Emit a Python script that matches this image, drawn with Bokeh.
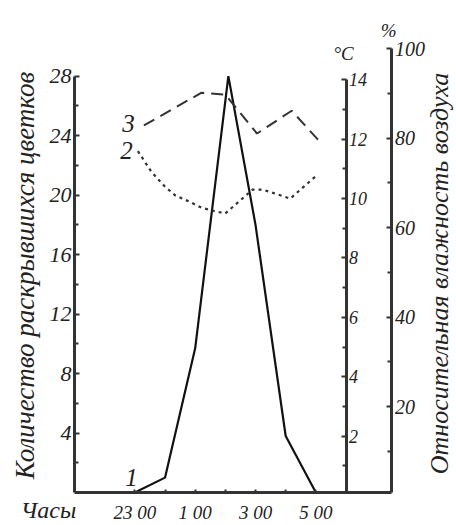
import math
from bokeh.plotting import figure
from bokeh.models import LinearAxis, Range1d, FixedTicker, Label
from bokeh.embed import file_html
from bokeh.resources import INLINE

# ---- data (hours after midnight written as 24+) ----
hours_flowers = [23, 24, 25, 26.1, 27, 28, 29]
flowers = [0, 1, 9.7, 28, 18, 3.8, 0]

hours_temp = [23.1, 23.55, 24.0, 24.35, 24.8, 25.2, 25.55, 26.0, 26.9, 27.25, 28.15, 29.05]
temperature = [11.6, 10.9, 10.4, 10.1, 9.9, 9.7, 9.6, 9.5, 10.3, 10.3, 10.0, 10.8]

hours_hum = [23.3, 25.2, 26.0, 27.05, 28.2, 29.1]
humidity = [82.8, 90.1, 89.7, 81.0, 86.1, 79.4]

count_ticks = [4, 8, 12, 16, 20, 24, 28]
count_minor = [2, 6, 10, 14, 18, 22, 26]
temp_ticks = [2, 4, 6, 8, 10, 12, 14]
temp_minor = [1, 3, 5, 7, 9, 11, 13]
hum_ticks = [20, 40, 60, 80, 100]
hum_minor = [10, 30, 50, 70, 90]
hour_ticks = [23, 25, 27, 29]
hour_minor = [24, 26, 28]
hour_labels = {23: "23 00", 25: "1 00", 27: "3 00", 29: "5 00"}

title_left = "Количество раскрывшихся цветков"
title_right = "Относительная влажность воздуха"
title_hours = "Часы"

FONT = "Liberation Serif"
INK = "#222222"
AX = "#333333"

# the whole canvas is the frame; axes sit at fixed locations inside it
p = figure(width=456, height=525, output_backend="svg", toolbar_location=None,
           x_range=Range1d(18.547, 33.662), y_range=Range1d(-2.219, 33.087),
           x_axis_location=None, y_axis_location=None,
           min_border_left=0, min_border_right=0, min_border_top=0,
           min_border_bottom=0)
p.grid.visible = False
p.outline_line_color = None
p.background_fill_color = "white"
p.extra_y_ranges = {"temp": Range1d(-1.0104, 16.672),
                    "hum": Range1d(-6.592, 110.73)}


def style_axis(ax, size):
    ax.axis_line_color = AX
    ax.axis_line_width = 3
    ax.major_tick_line_color = AX
    ax.major_tick_line_width = 2
    ax.minor_tick_line_color = AX
    ax.minor_tick_line_width = 2
    ax.major_tick_in = 5
    ax.major_tick_out = 0
    ax.minor_tick_in = 4
    ax.minor_tick_out = 0
    ax.major_label_text_font = FONT
    ax.major_label_text_font_style = "italic"
    ax.major_label_text_font_size = size
    ax.major_label_text_color = INK


# left axis: counts
ya = LinearAxis(fixed_location=21,
                ticker=FixedTicker(ticks=count_ticks, minor_ticks=count_minor),
                bounds=(0, 28))
style_axis(ya, "22px")
ya.major_label_standoff = 3
p.add_layout(ya, "left")

# bottom axis: hours
xa = LinearAxis(fixed_location=0,
                ticker=FixedTicker(ticks=hour_ticks, minor_ticks=hour_minor),
                bounds=(21, 31.52))
style_axis(xa, "19px")
xa.major_label_overrides = hour_labels
xa.major_tick_in = 3
xa.minor_tick_in = 3
xa.major_label_standoff = 9
p.add_layout(xa, "below")

# humidity axis
ha = LinearAxis(y_range_name="hum", fixed_location=31.52,
                ticker=FixedTicker(ticks=hum_ticks, minor_ticks=hum_minor),
                bounds=(0.78, 100))
style_axis(ha, "20px")
ha.major_label_standoff = 3
p.add_layout(ha, "right")

# temperature axis
ta = LinearAxis(y_range_name="temp", fixed_location=30,
                ticker=FixedTicker(ticks=temp_ticks, minor_ticks=temp_minor),
                bounds=(0.1, 14))
style_axis(ta, "18px")
ta.major_label_standoff = 3
p.add_layout(ta, "right")

# series
p.line(hours_flowers, flowers, line_color="#111111", line_width=2.2)
p.line(hours_temp, temperature, y_range_name="temp", line_color="#333333",
       line_width=2.2, line_dash="3 4")
p.line(hours_hum, humidity, y_range_name="hum", line_color="#333333",
       line_width=2, line_dash="12 7")


def lab(x, y, t, size, angle=0.0):
    p.add_layout(Label(x=x, y=y, text=t, text_font=FONT, text_font_style="italic",
                       text_font_size=size, text_color=INK, text_align="center",
                       text_baseline="middle", angle=angle))


lab(22.79, 24.8, "3", "25px")
lab(22.72, 23.0, "2", "25px")
lab(22.89, 1.0, "1", "25px")
lab(29.92, 29.5, "°C", "19px")
lab(31.41, 31.1, "%", "19px")
lab(20.14, -1.2, title_hours, "24px")
lab(19.343, 14.59, title_left, "27px", math.pi / 2)
lab(33.10, 14.73, title_right, "26px", math.pi / 2)

open("out.html", "w").write(file_html(p, INLINE))
